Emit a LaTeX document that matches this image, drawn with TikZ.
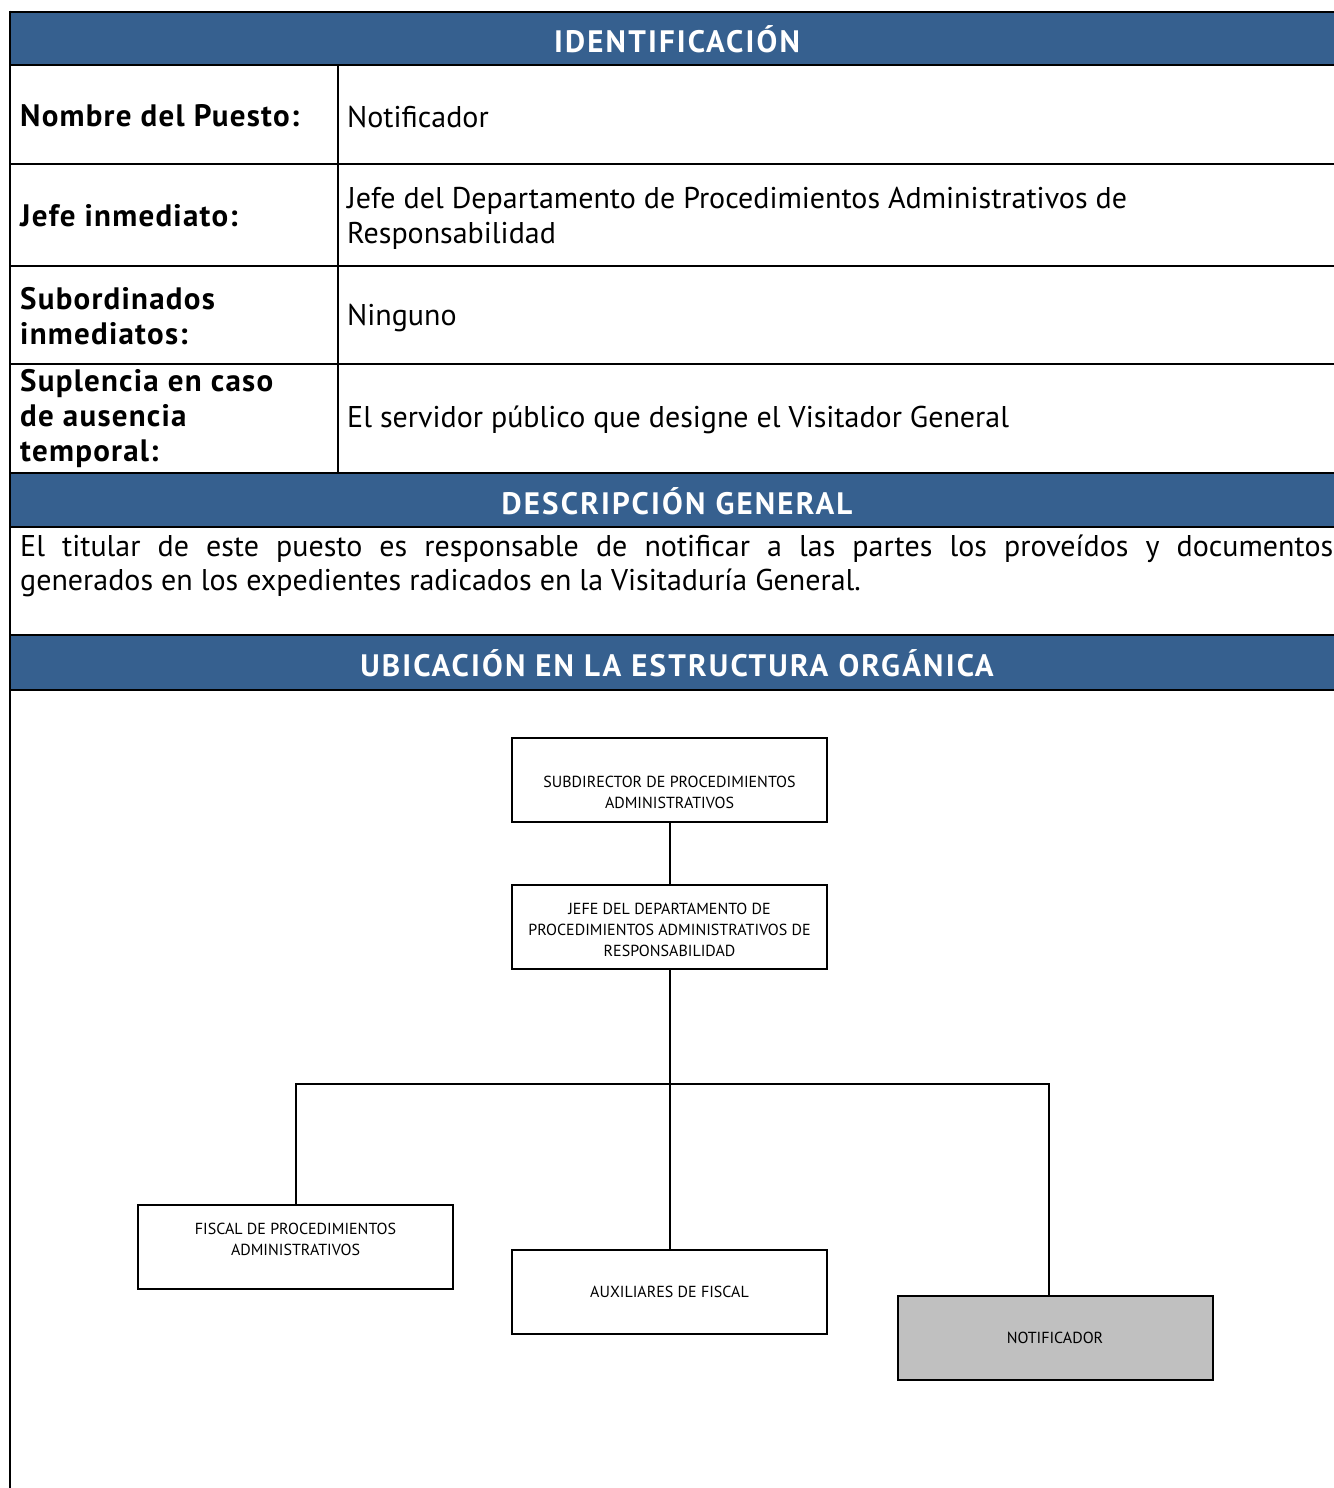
\documentclass[tikz,border=0pt]{standalone}
\usepackage{fontspec}
\setmainfont{PT Sans}
\newfontfamily\labelfont[LetterSpace=4]{PT Sans}
\newfontfamily\titlefont[LetterSpace=7]{PT Sans}
\definecolor{hdrblue}{RGB}{54,96,143}
\definecolor{boxgray}{RGB}{192,192,192}
\begin{document}
\begin{tikzpicture}[x=1pt,y=-1pt,
  tline/.style={line width=2.5pt},
  hdr/.style={font=\titlefont\fontsize{31}{34}\selectfont\bfseries, text=white, inner sep=0pt},
  lbl/.style={font=\labelfont\fontsize{31}{35}\selectfont\bfseries, anchor=west, align=left, inner sep=0pt},
  val/.style={font=\fontsize{30}{35}\selectfont, anchor=west, align=left, inner sep=0pt},
  orgbox/.style={draw, line width=2pt, minimum width=315pt, minimum height=84pt, inner sep=0pt},
  orgtext/.style={align=center, inner sep=0pt, font=\fontsize{16}{21}\selectfont},
  link/.style={line width=2pt}]
\useasboundingbox (0,0) rectangle (1333,1488);

% header bands
\fill[hdrblue] (10,12) rectangle (1340,65);
\fill[hdrblue] (10,473) rectangle (1340,527);
\fill[hdrblue] (10,635) rectangle (1340,690);

% table rules
\foreach \yy in {12,65,164,266,364,473,527,635,690}
  \draw[tline] (10,\yy) -- (1340,\yy);
\draw[tline] (10,10.75) -- (10,1492);
\draw[tline] (338,65) -- (338,473);

% header titles
\node[hdr] (h1) at (677,39) {IDENTIFICACIÓN};
\node[hdr] (h2) at (677,501) {DESCRIPCIÓN GENERAL};
\node[hdr] (h3) at (677,663) {UBICACIÓN EN LA ESTRUCTURA ORGÁNICA};

% identification rows
\node[lbl] (l1) at (20,116) {Nombre del Puesto:};
\node[val] (v1) at (347,117) {Notificador};
\node[lbl] (l2) at (20,216) {Jefe inmediato:};
\node[val] (v2) at (347,218) {Jefe del Departamento de Procedimientos Administrativos de\\Responsabilidad};
\node[lbl] (l3) at (20,316) {Subordinados\\inmediatos:};
\node[val] (v3) at (347,318) {Ninguno};
\node[lbl] (l4) at (20,419) {Suplencia en caso\\de ausencia\\temporal:};
\node[val] (v4) at (347,420) {El servidor público que designe el Visitador General};

% general description
\node[val, anchor=north west, text width=1313pt, align=justify,
      font=\fontsize{30}{34}\selectfont] (desc) at (20,535)
  {El titular de este puesto es responsable de notificar a las partes los proveídos y documentos\linebreak
   generados en los expedientes radicados en la Visitaduría General.};

% organisation chart
\node[orgbox] (sub) at (669.5,780) {};
\node[orgtext] (subt) at ([yshift=-12pt]sub.center) {SUBDIRECTOR DE PROCEDIMIENTOS\\ADMINISTRATIVOS};
\node[orgbox] (jefe) at (669.5,927) {};
\node[orgtext] (jefet) at ([yshift=-3pt]jefe.center) {JEFE DEL DEPARTAMENTO DE\\PROCEDIMIENTOS ADMINISTRATIVOS DE\\RESPONSABILIDAD};
\node[orgbox] (fisc) at (295.5,1247) {};
\node[orgtext] (fisct) at ([yshift=8pt]fisc.center) {FISCAL DE PROCEDIMIENTOS\\ADMINISTRATIVOS};
\node[orgbox] (aux) at (669.5,1291.5) {};
\node[orgtext] (auxt) at (aux.center) {AUXILIARES DE FISCAL};
\node[orgbox, fill=boxgray] (noti) at (1055,1338) {};
\node[orgtext] (notit) at (noti.center) {NOTIFICADOR};

\coordinate (hl) at (295.5,1084);
\coordinate (hr) at (1049,1084);
\draw[link] (sub.south) -- (jefe.north);
\draw[link] (jefe.south) -- (aux.north);
\draw[link] (fisc.north) -- (hl) -- (hr) -- (hr |- noti.north);
\end{tikzpicture}
\end{document}
